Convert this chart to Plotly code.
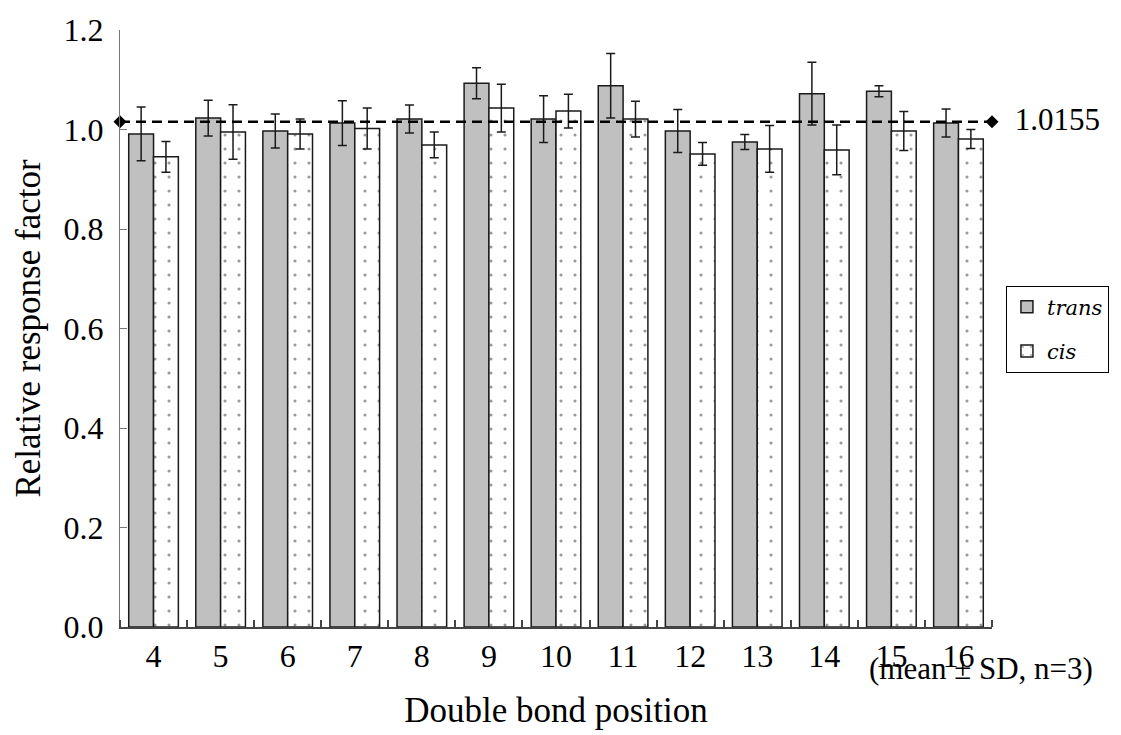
import plotly.graph_objects as go

positions = [4, 5, 6, 7, 8, 9, 10, 11, 12, 13, 14, 15, 16]
trans_mean = [0.991, 1.023, 0.997, 1.013, 1.021, 1.093, 1.021, 1.088, 0.997, 0.975, 1.072, 1.077, 1.013]
trans_sd = [0.054, 0.036, 0.034, 0.045, 0.028, 0.031, 0.047, 0.065, 0.043, 0.015, 0.063, 0.011, 0.028]
cis_mean = [0.945, 0.995, 0.991, 1.002, 0.969, 1.043, 1.037, 1.021, 0.951, 0.961, 0.959, 0.997, 0.981]
cis_sd = [0.031, 0.055, 0.030, 0.041, 0.026, 0.048, 0.034, 0.036, 0.023, 0.047, 0.050, 0.039, 0.019]
mean_rrf = 1.0155
mean_label = "1.0155"
x_edges = [3.5, 16.5]

FONT = "Liberation Serif"
LEGEND_FONT = "DejaVu Serif"
INK = "#1a1a1a"

fig = go.Figure()
fig.add_trace(go.Bar(
    x=positions, y=trans_mean, name="trans",
    marker=dict(color="#c0c0c0", line=dict(color=INK, width=1.5)),
    error_y=dict(type="data", array=trans_sd, visible=True, color=INK, thickness=1.5, width=4.5),
    legendgroup="a",
))
fig.add_trace(go.Bar(
    x=positions, y=cis_mean, name="cis",
    marker=dict(color="white", line=dict(color=INK, width=1.5),
                pattern=dict(shape=".", bgcolor="white", fgcolor="#333333", size=14, solidity=0.04)),
    error_y=dict(type="data", array=cis_sd, visible=True, color=INK, thickness=1.5, width=4.5),
    legendgroup="b",
))
fig.add_trace(go.Scatter(
    x=x_edges, y=[mean_rrf, mean_rrf], mode="lines+markers+text",
    line=dict(color="black", width=2.5, dash="10px,6px"),
    marker=dict(symbol="diamond", size=10, color="black"),
    text=["", "  " + mean_label], textposition="middle right",
    textfont=dict(family=FONT, size=31, color="black"),
    cliponaxis=False, showlegend=False, hoverinfo="skip",
))

fig.update_layout(
    width=1121, height=735,
    margin=dict(l=120, r=119, t=27, b=107),
    paper_bgcolor="white", plot_bgcolor="white",
    barmode="group", bargap=0.26, bargroupgap=0.0,
    font=dict(family=FONT, color="black", size=32),
    showlegend=True,
    legend=dict(x=1.016, y=0.572, xanchor="left", yanchor="top",
                bordercolor="black", borderwidth=1, bgcolor="white",
                font=dict(family=LEGEND_FONT, size=21, style="italic"), tracegroupgap=14,
                itemwidth=30),
    hovermode=False,
    annotations=[dict(text="(mean ± SD, n=3)", xref="paper", yref="paper",
                      x=1.118, y=-0.070, xanchor="right", yanchor="middle",
                      showarrow=False, font=dict(family=FONT, size=31, color="black"))],
)
fig.update_xaxes(
    range=[3.5, 16.5], tickmode="array", tickvals=positions, ticktext=[str(p) for p in positions],
    ticks="", showgrid=False, zeroline=False,
    showline=True, linecolor="#444444", linewidth=1.5,
    tickfont=dict(family=FONT, size=32), ticklabelstandoff=0,
    minor=dict(tickmode="linear", tick0=3.5, dtick=1, ticks="inside", ticklen=7,
               tickcolor="#444444", tickwidth=1.5, showgrid=False),
    title=dict(text="Double bond position", font=dict(family=FONT, size=35), standoff=24),
)
fig.update_yaxes(
    range=[0, 1.2], tickmode="array", tickvals=[0, 0.2, 0.4, 0.6, 0.8, 1.0, 1.2],
    ticktext=["0.0", "0.2", "0.4", "0.6", "0.8", "1.0", "1.2"],
    ticks="inside", ticklen=7, tickcolor="#777777", tickwidth=1.2,
    showgrid=False, zeroline=False,
    showline=True, linecolor="#777777", linewidth=1.2,
    tickfont=dict(family=FONT, size=32), ticklabelstandoff=9,
    title=dict(text="Relative response factor", font=dict(family=FONT, size=35), standoff=12),
)

fig.write_html("out.html", config=dict(displayModeBar=False),
               post_script="document.body.style.margin='0';")
